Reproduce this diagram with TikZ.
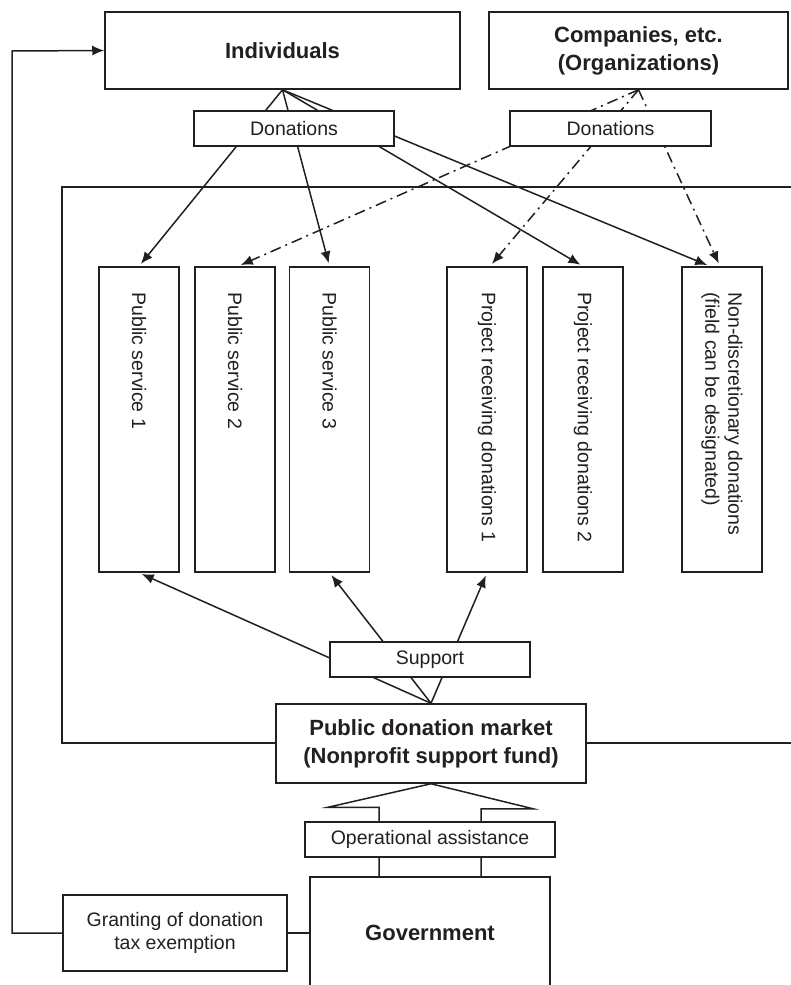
\documentclass[tikz,border=0pt]{standalone}
\usepackage{fontspec}
\setmainfont{Liberation Sans}
\usetikzlibrary{arrows.meta,calc,backgrounds}
\definecolor{ink}{RGB}{35,31,32}
\begin{document}
\begin{tikzpicture}[x=1pt,y=-1pt,
  ln/.style={draw=ink,line width=1.5pt},
  box/.style={draw=ink,fill=white,line width=1.5pt,inner sep=0pt,rectangle,align=center,text=ink,font=\fontsize{19.5}{23}\selectfont},
  bbox/.style={box,font=\fontsize{22}{28}\selectfont\bfseries},
  colbox/.style={box,minimum width=80pt,minimum height=305pt},
  coltext/.style={rotate=-90,anchor=west,align=left,inner sep=0pt,text=ink,font=\fontsize{19.5}{23}\selectfont},
  arr/.style={ln,-{Latex[length=12pt,width=10pt]},shorten >=3pt},
  dd/.style={arr,dash pattern=on 11pt off 5pt on 2pt off 5pt}]
\useasboundingbox (0,0) rectangle (790,985);
\clip (0,0) rectangle (790,985);

% nodes
\node[bbox,minimum width=355pt,minimum height=77pt] (ind) at (282.5,50.5) {Individuals};
\node[bbox,minimum width=299pt,minimum height=77pt] (comp) at (638.5,50.5) {Companies, etc.\\(Organizations)};
\node[box,minimum width=200pt,minimum height=35pt] (don1) at (294,128.5) {Donations};
\node[box,minimum width=201pt,minimum height=35pt] (don2) at (610.5,128.5) {Donations};

\node[colbox] (ps1) at (139,419.5) {};
\node[colbox] (ps2) at (235,419.5) {};
\node[colbox] (ps3) at (329.5,419.5) {};
\node[colbox] (prd1) at (487,419.5) {};
\node[colbox] (prd2) at (583,419.5) {};
\node[colbox] (ndd) at (722,419.5) {};
\node[coltext] (t1) at ([yshift=-26pt]ps1.north) {Public service 1};
\node[coltext] (t2) at ([yshift=-26pt]ps2.north) {Public service 2};
\node[coltext] (t3) at ([yshift=-26pt]ps3.north) {Public service 3};
\node[coltext] (t4) at ([yshift=-26pt]prd1.north) {Project receiving donations 1};
\node[coltext] (t5) at ([yshift=-26pt]prd2.north) {Project receiving donations 2};
\node[coltext] (t6) at ([yshift=-26pt]ndd.north) {Non-discretionary donations\\(field can be designated)};

\node[box,minimum width=200pt,minimum height=35pt] (sup) at (430,659.5) {Support};
\node[bbox,minimum width=310pt,minimum height=79pt] (pdm) at (431,743.5) {Public donation market\\(Nonprofit support fund)};
\node[box,minimum width=250pt,minimum height=35pt] (opa) at (430,839.5) {Operational assistance};
\node[bbox,minimum width=240pt,minimum height=112pt] (gov) at (430,933) {Government};
\node[box,minimum width=224pt,minimum height=76pt] (grant) at (175,933) {Granting of donation\\tax exemption};

\coordinate (obl) at (62,743);
\coordinate (otl) at (62,187);
\coordinate (otr) at (800,187);
\coordinate (obr) at (800,743);
\coordinate (fbl) at (12,933);
\coordinate (ftl) at (12,51);

\begin{scope}[on background layer]
  % outer frame
  \draw[ln] (otr) -- (otl) -- (obl) -- (pdm.west |- obl);
  \draw[ln] (pdm.east |- obr) -- (obr);
  % individuals donations
  \draw[arr] (ind.south) -- (ps1.north);
  \draw[arr] (ind.south) -- (ps3.north);
  \draw[arr] (ind.south) -- (prd2.north);
  \draw[arr] (ind.south) -- ([xshift=-12pt]ndd.north);
  % companies donations
  \draw[dd] (comp.south) -- ([xshift=3pt]ps2.north);
  \draw[dd] (comp.south) -- ([xshift=3pt]prd1.north);
  \draw[dd] (comp.south) -- ([xshift=-2pt]ndd.north);
  % support
  \draw[arr] (pdm.north) -- (ps1.south);
  \draw[arr] (pdm.north) -- (ps3.south);
  \draw[arr] (pdm.north) -- (prd1.south);
  % hollow arrow government -> market
  \draw[ln] ([xshift=-51pt]gov.north) -- ++(0,-69) -- ++(-51,0) -- (pdm.south)
        -- ++(102,25) -- ++(-52,0) -- ([xshift=51pt]gov.north);
  % tax exemption
  \draw[ln] (grant.east) -- (gov.west);
  \draw[ln,-{Latex[length=12pt,width=10pt]}] (grant.west) -- (fbl) -- (ftl) -- (ind.west);
\end{scope}
\end{tikzpicture}
\end{document}
